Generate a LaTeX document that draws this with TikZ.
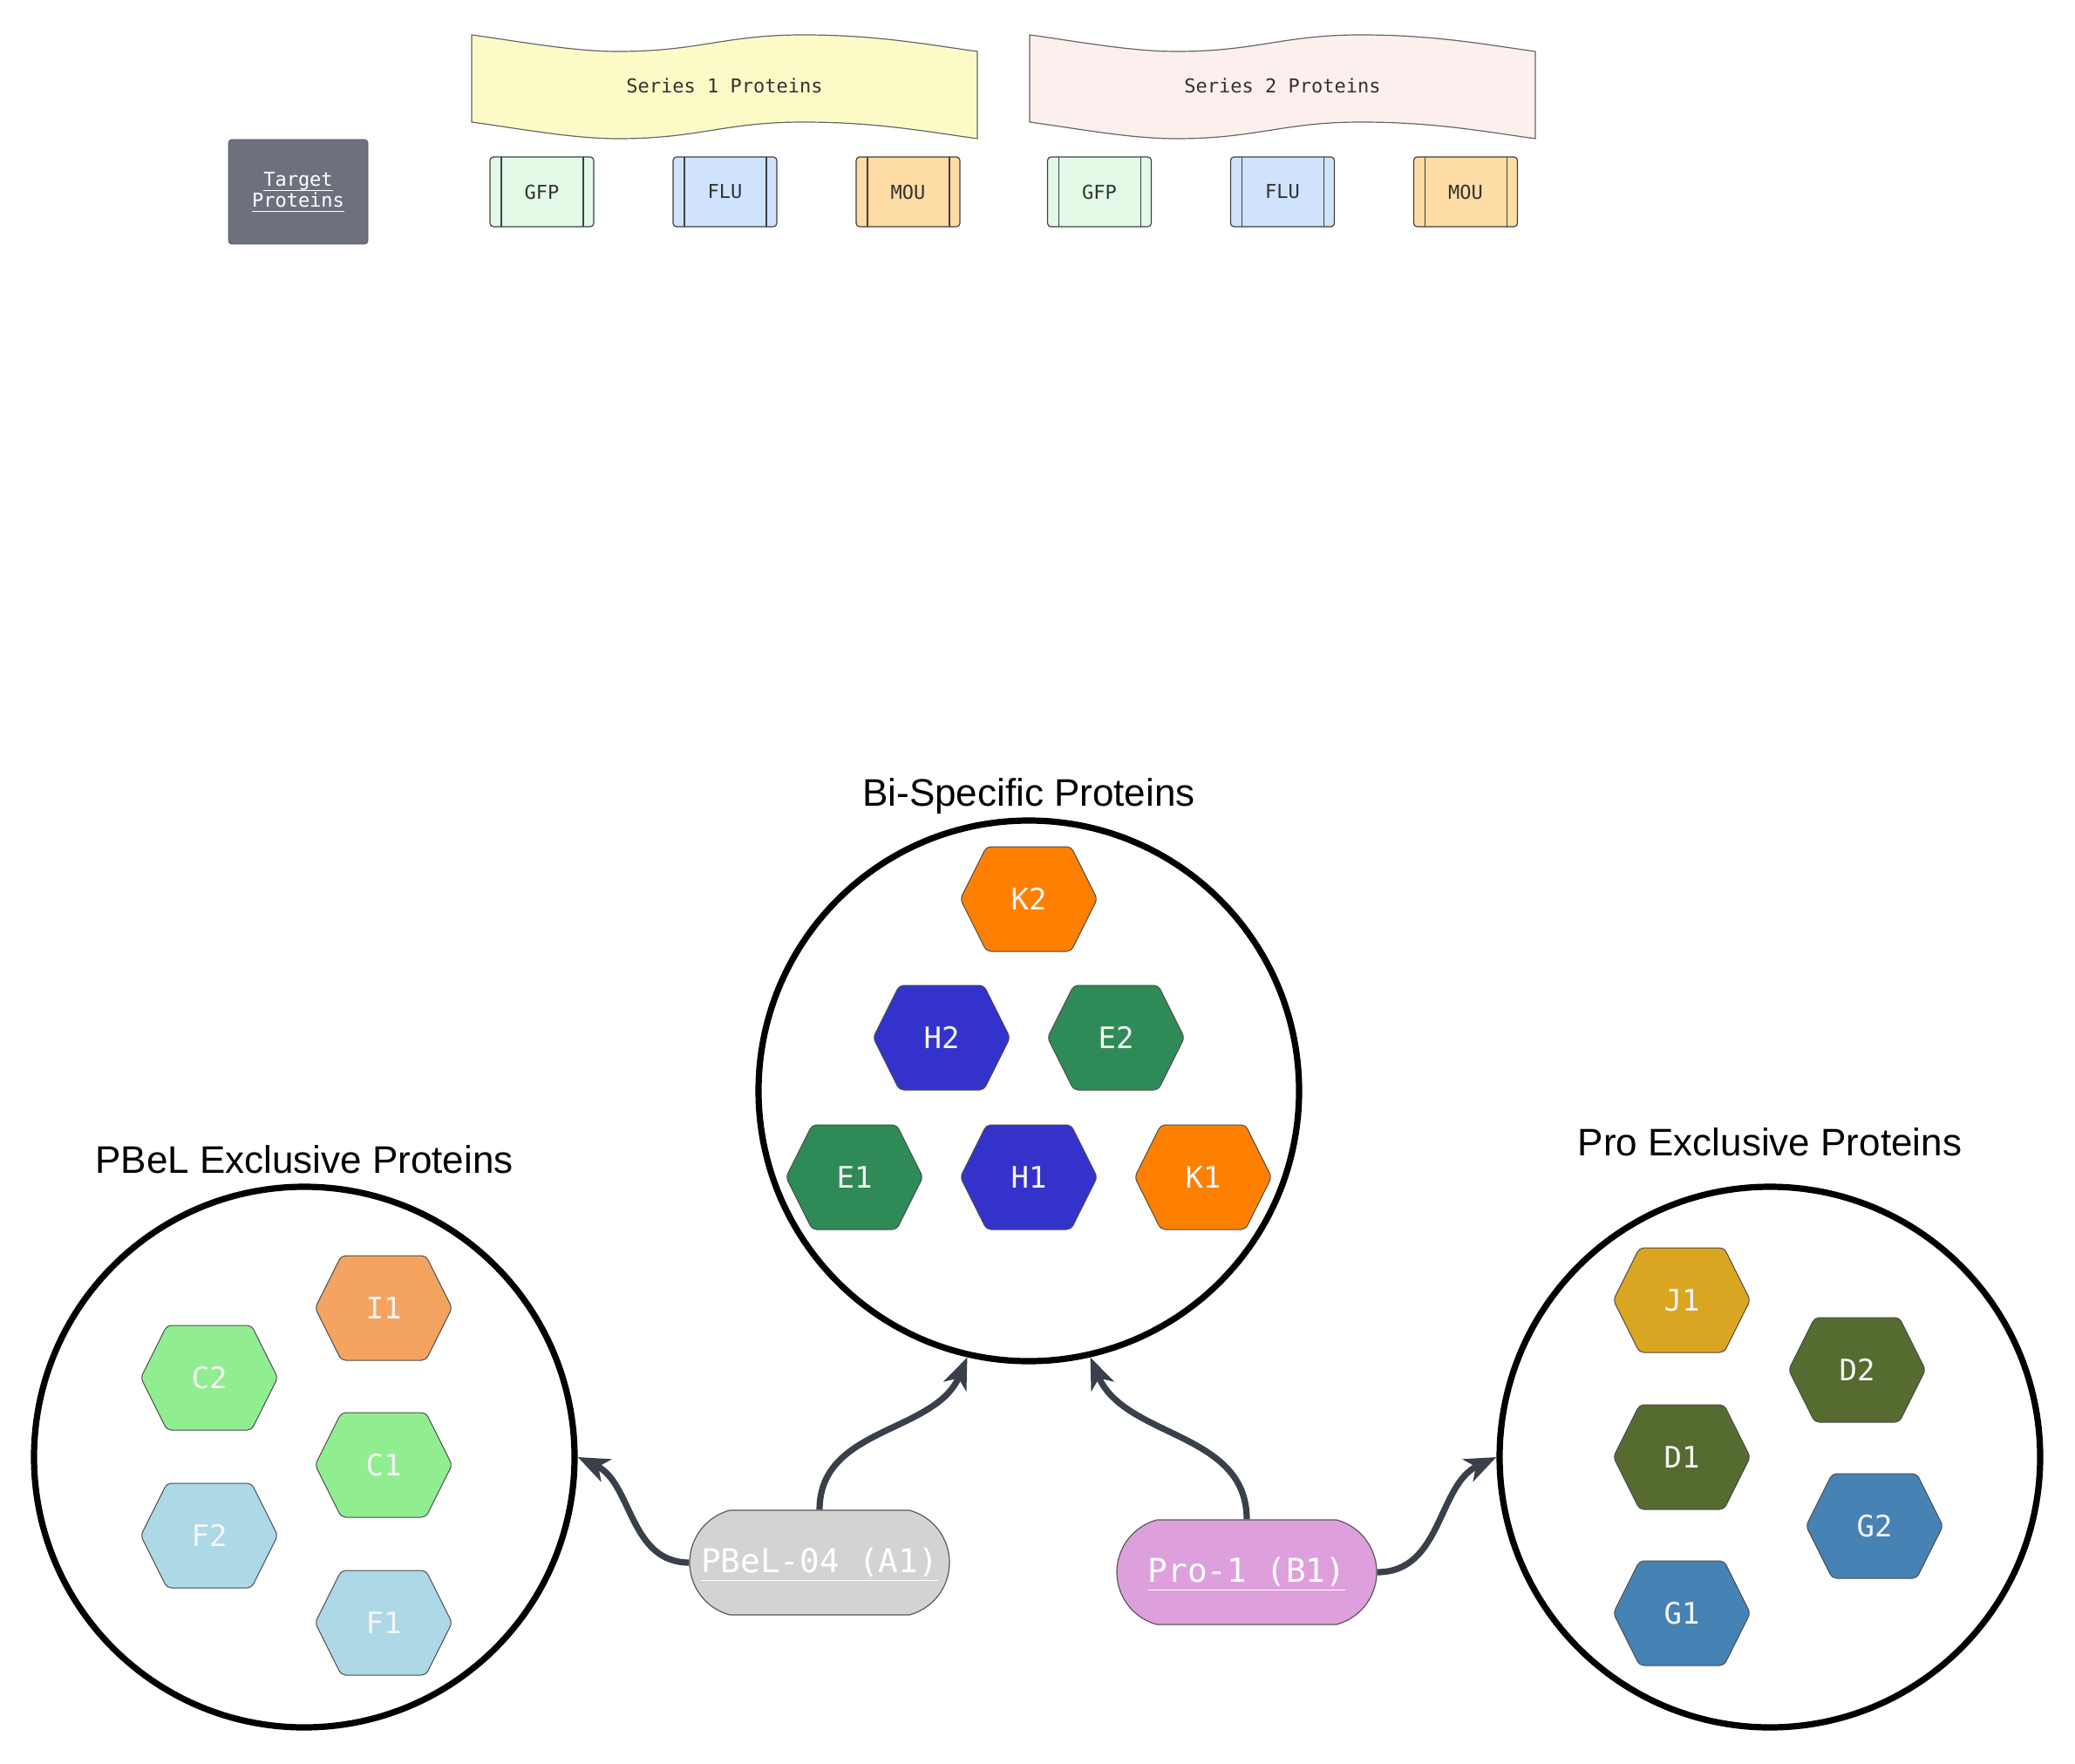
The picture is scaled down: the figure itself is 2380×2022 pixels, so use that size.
\documentclass[tikz,border=0pt]{standalone}
\usepackage{fontspec}
\setmainfont{Liberation Sans}
\newfontfamily\monof{DejaVu Sans Mono}
\usetikzlibrary{shapes.misc,arrows.meta}
\newcommand\myul[3]{\setbox0\hbox{#3}\rlap{\rule[-#1]{\wd0}{#2}}\box0}
\definecolor{slateg}{HTML}{6C717D}
\definecolor{arrowc}{HTML}{3A404B}
\definecolor{bannerA}{HTML}{FCFBC8}
\definecolor{bannerB}{HTML}{FDEFEE}
\definecolor{gfpc}{HTML}{E3F9E5}
\definecolor{fluc}{HTML}{CFE3FC}
\definecolor{mouc}{HTML}{FDDCA5}
\definecolor{orangeK}{HTML}{FF7F00}
\definecolor{blueH}{HTML}{3333CC}
\definecolor{greenE}{HTML}{2E8B57}
\definecolor{sandyI}{HTML}{F4A460}
\definecolor{greenC}{HTML}{90EE90}
\definecolor{blueF}{HTML}{ADD8E6}
\definecolor{goldJ}{HTML}{DAA520}
\definecolor{oliveD}{HTML}{556B2F}
\definecolor{steelG}{HTML}{4682B4}
\definecolor{pillA}{HTML}{D3D3D3}
\definecolor{pillB}{HTML}{DDA0DD}
\begin{document}
\begin{tikzpicture}[x=0.5pt,y=0.5pt,
  hexa/.style={minimum width=80.5pt, minimum height=62pt, inner sep=0pt, text=white!96!black,
    font=\monof\fontsize{17}{20}\selectfont,
    path picture={\filldraw[fill=#1, draw=black!70, line width=0.5pt, rounded corners=2.5pt]
      ([yshift=-1pt]path picture bounding box.north)
      -- ([xshift=-16pt,yshift=-1pt]path picture bounding box.north east)
      -- ([xshift=-1pt]path picture bounding box.east)
      -- ([xshift=-16pt,yshift=1pt]path picture bounding box.south east)
      -- ([xshift=16pt,yshift=1pt]path picture bounding box.south west)
      -- ([xshift=1pt]path picture bounding box.west)
      -- ([xshift=16pt,yshift=-1pt]path picture bounding box.north west)
      -- cycle;}},
  circ/.style={circle, draw=black, line width=3.6pt, minimum size=310pt, inner sep=0pt},
  grouptitle/.style={anchor=base, font=\fontsize{22}{26}\selectfont, text=black},
  conn/.style={draw=arrowc, line width=3.6pt, -{Stealth[length=18pt,width=14pt,inset=5pt]}},
  pill/.style={rounded rectangle, rounded rectangle arc length=150, minimum width=149pt,
    minimum height=60pt, inner sep=0pt, draw=black!65, line width=0.6pt, fill=#1, text=white,
    text height=11.5pt, text depth=0pt, font=\monof\fontsize{18.8}{22}\selectfont},
  subr/.style={rectangle, rounded corners=2pt, draw=black!75, line width=0.6pt, fill=#1,
    minimum width=59.5pt, minimum height=40pt, inner sep=0pt, text=black!80,
    font=\monof\fontsize{11}{13}\selectfont,
    path picture={\draw[black!75, line width=0.6pt]
      ([xshift=6.5pt]path picture bounding box.north west) -- ([xshift=6.5pt]path picture bounding box.south west)
      ([xshift=-6pt]path picture bounding box.north east) -- ([xshift=-6pt]path picture bounding box.south east);}},
  bannerpath/.style={draw=black!60, line width=0.6pt, fill=#1},
  bannertext/.style={font=\monof\fontsize{11}{13}\selectfont, text=black!80}
]
\useasboundingbox (0,0) rectangle (2380,-2022);

% ---------- top legend ----------
\node[rectangle, rounded corners=2pt, fill=slateg, draw=slateg!80!black, line width=0.4pt,
  minimum width=80pt, minimum height=60pt, inner sep=0pt, text=white, align=center,
  font=\monof\fontsize{11}{12}\selectfont] (target) at (342,-220)
  {\myul{2.6pt}{0.5pt}{Target}\\\myul{2.6pt}{0.5pt}{Proteins}};

\begin{scope}[shift={(541,0)}]
\path[bannerpath=bannerA] (0,-40) .. controls (58,-48) and (116,-59) .. (168,-59)
  .. controls (261,-59) and (290,-40) .. (380,-40)
  .. controls (464,-40) and (522,-51) .. (580,-59) -- (580,-159)
  .. controls (522,-151) and (464,-140) .. (380,-140)
  .. controls (290,-140) and (261,-159) .. (168,-159)
  .. controls (116,-159) and (58,-148) .. (0,-140) -- cycle;
\end{scope}
\node[bannertext] (series1) at (831,-98) {Series 1 Proteins};

\begin{scope}[shift={(1181,0)}]
\path[bannerpath=bannerB] (0,-40) .. controls (58,-48) and (116,-59) .. (168,-59)
  .. controls (261,-59) and (290,-40) .. (380,-40)
  .. controls (464,-40) and (522,-51) .. (580,-59) -- (580,-159)
  .. controls (522,-151) and (464,-140) .. (380,-140)
  .. controls (290,-140) and (261,-159) .. (168,-159)
  .. controls (116,-159) and (58,-148) .. (0,-140) -- cycle;
\end{scope}
\node[bannertext] (series2) at (1471,-98) {Series 2 Proteins};

\node[subr=gfpc] (gfp1) at (621.5,-220) {GFP};
\node[subr=fluc] (flu1) at (831.5,-220) {FLU};
\node[subr=mouc] (mou1) at (1041.5,-220) {MOU};
\node[subr=gfpc] (gfp2) at (1261,-220) {GFP};
\node[subr=fluc] (flu2) at (1471,-220) {FLU};
\node[subr=mouc] (mou2) at (1681,-220) {MOU};

% ---------- groups ----------
\node[circ] (bi) at (1180,-1251) {};
\node[circ] (pbel) at (349,-1671) {};
\node[circ] (pro) at (2030,-1671) {};

\node[grouptitle] (bititle) at (1180,-924) {Bi-Specific Proteins};
\node[grouptitle] (pbeltitle) at (349,-1345) {PBeL Exclusive Proteins};
\node[grouptitle] (protitle) at (2030,-1325) {Pro Exclusive Proteins};

\node[hexa=orangeK] (K2) at (1180,-1031) {K2};
\node[hexa=blueH] (H2) at (1080,-1190) {H2};
\node[hexa=greenE] (E2) at (1280,-1190) {E2};
\node[hexa=greenE] (E1) at (980,-1350) {E1};
\node[hexa=blueH] (H1) at (1180,-1350) {H1};
\node[hexa=orangeK] (K1) at (1380,-1350) {K1};

\node[hexa=sandyI] (I1) at (440,-1500) {I1};
\node[hexa=greenC] (C2) at (240,-1580) {C2};
\node[hexa=greenC] (C1) at (440,-1680) {C1};
\node[hexa=blueF] (F2) at (240,-1761) {F2};
\node[hexa=blueF] (F1) at (440,-1861) {F1};

\node[hexa=goldJ] (J1) at (1929,-1491) {J1};
\node[hexa=oliveD] (D2) at (2130,-1571) {D2};
\node[hexa=oliveD] (D1) at (1929,-1671) {D1};
\node[hexa=steelG] (G2) at (2150,-1750) {G2};
\node[hexa=steelG] (G1) at (1929,-1850) {G1};

% ---------- sources ----------
\node[pill=pillA] (A1) at (940,-1792) {\myul{4.8pt}{0.6pt}{PBeL-04 (A1)}};
\node[pill=pillB] (B1) at (1430,-1803) {\myul{4.8pt}{0.6pt}{Pro-1 (B1)}};

\draw[conn] (A1.west) to[out=180,in=-25] (pbel.east);
\draw[conn] (A1.north) to[out=90,in=-113] (bi.-103);
\draw[conn] (B1.north) to[out=90,in=-67] (bi.-77);
\draw[conn] (B1.east) to[out=0,in=-155] (pro.west);
\end{tikzpicture}
\end{document}
